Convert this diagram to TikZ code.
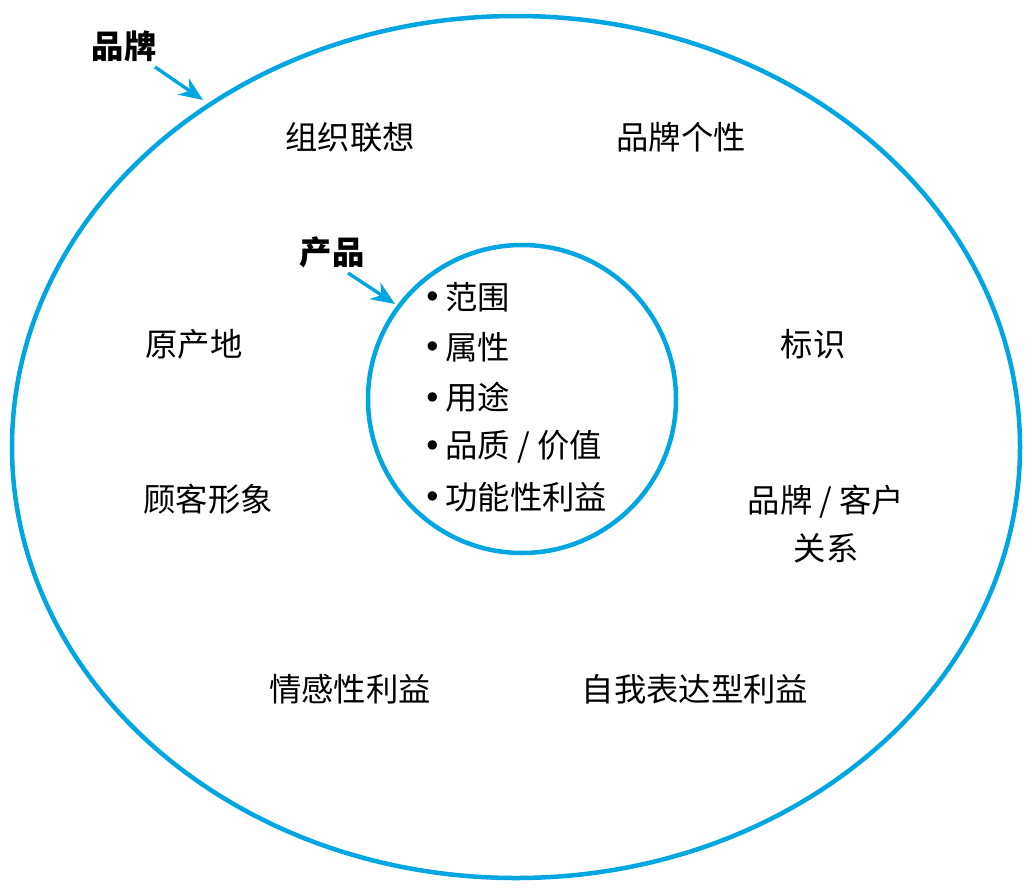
\documentclass[tikz,border=0pt]{standalone}
\usepackage{fontspec}
\newfontfamily\cjk{Noto Sans CJK SC}
\usetikzlibrary{arrows.meta}
\definecolor{ringblue}{RGB}{0,166,226}
\newcommand{\dotmark}{\raisebox{4.5pt}{\fontsize{17}{17}\selectfont$\bullet$}\hspace{5pt}}
\tikzset{
  ring/.style={draw=ringblue, line width=3.2pt},
  pointer/.style={draw=ringblue, line width=2.4pt, -{Stealth[length=17pt,width=14pt]}},
  tag/.style={font=\cjk\fontsize{23}{23}\selectfont\bfseries, inner sep=0pt},
  facet/.style={font=\cjk\fontsize{23}{34}\selectfont, inner sep=0pt, align=center},
  item/.style={font=\cjk\fontsize{23}{23}\selectfont, inner sep=0pt, anchor=west}
}
\begin{document}
\begin{tikzpicture}[x=0.025cm, y=-0.025cm]
	\useasboundingbox (0,0) rectangle (1032,889);

	% the two rings
	\draw[ring] (516,447) ellipse[x radius=504, y radius=431];
	\draw[ring] (522,399) circle[radius=154];

	% labels with their pointers
	\node[tag] (brand) at (124,46) {品牌};
	\node[tag] (product) at (332,252) {产品};
	\coordinate (brandtip) at (203,100);
	\coordinate (producttip) at (395,304);
	\draw[pointer] (155,67) -- (brandtip);
	\draw[pointer] (348,273) -- (producttip);

	% brand facets
	\node[facet] (assoc) at (350,137) {组织联想};
	\node[facet] (person) at (681,137) {品牌个性};
	\node[facet] (origin) at (194,344) {原产地};
	\node[facet] (symbol) at (813,344) {标识};
	\node[facet] (image) at (208,499) {顾客形象};
	\node[facet] (relation) at (826,524) {品牌 / 客户\\关系};
	\node[facet] (emotion) at (350,689) {情感性利益};
	\node[facet] (express) at (695,689) {自我表达型利益};

	% product list
	\foreach \n/\txt in {1/范围, 2/属性, 3/用途, 4/{品质 / 价值}, 5/功能性利益}
		\node[item] (prod\n) at (426, 247+50*\n) {\dotmark\txt};
\end{tikzpicture}
\end{document}
